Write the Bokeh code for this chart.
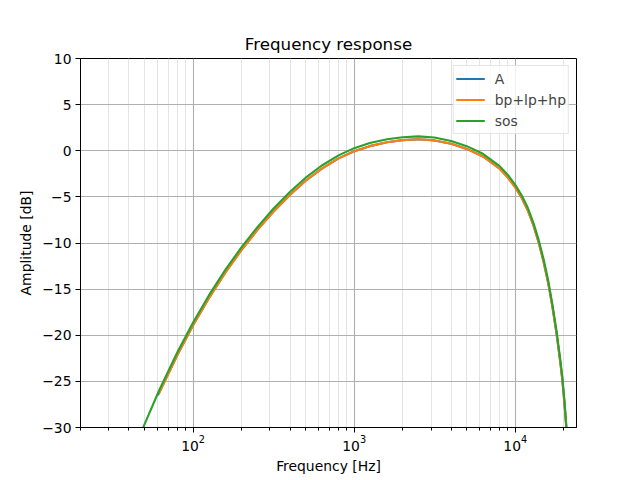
from bokeh.plotting import figure
from bokeh.models import FixedTicker, Legend, LegendItem
from bokeh.embed import file_html
from bokeh.resources import INLINE

# ---- data (frequency in Hz, amplitude in dB) ----
freq_A = [60.5, 80, 100, 125, 160, 200, 250, 315, 400, 500, 630, 800, 1000, 1250, 1600,
          2000, 2500, 3150, 4000, 5000, 6300, 8000, 9000, 10000, 11000, 12000, 13000,
          14000, 15000, 16000, 17000, 18000, 19000, 19600, 20200, 20700, 21200, 21700]
amp_A = [-26.5, -22.12, -18.92, -16.01, -13.11, -10.75, -8.61, -6.61, -4.76, -3.25,
         -1.93, -0.83, -0.05, 0.5, 0.93, 1.15, 1.24, 1.12, 0.75, 0.2, -0.62, -1.95,
         -2.9, -3.97, -5.15, -6.52, -8.15, -10.0, -12.05, -14.3, -16.9, -19.7, -22.8,
         -24.85, -27.35, -29.8, -32.6, -35.8]

freq_bp = [61.5, 80, 100, 125, 160, 200, 250, 315, 400, 500, 630, 800, 1000, 1250, 1600,
           2000, 2500, 3150, 4000, 5000, 6300, 8000, 9000, 10000, 11000, 12000, 13000,
           14000, 15000, 16000, 17000, 18000, 19000, 19600, 20200, 20700, 21200, 21700]
amp_bp = [-26.29, -22.12, -18.92, -16.01, -13.11, -10.75, -8.61, -6.61, -4.76, -3.25,
          -1.93, -0.83, -0.05, 0.5, 0.93, 1.15, 1.24, 1.12, 0.75, 0.2, -0.62, -1.95,
          -2.9, -3.97, -5.15, -6.52, -8.15, -10.0, -12.05, -14.3, -16.9, -19.7, -22.8,
          -24.85, -27.35, -29.8, -32.6, -35.8]

freq_sos = [40, 50, 61.5, 80, 100, 125, 160, 200, 250, 315, 400, 500, 630, 800, 1000,
            1250, 1600, 2000, 2500, 3150, 4000, 5000, 6300, 8000, 9000, 10000, 11000,
            12000, 13000, 14000, 15000, 16000, 17000, 18000, 19000, 19600, 20200, 20700,
            21200, 21700]
amp_sos = [-33.82, -29.63, -25.99, -21.82, -18.62, -15.71, -12.81, -10.45, -8.3, -6.29,
           -4.44, -2.92, -1.6, -0.5, 0.28, 0.83, 1.25, 1.47, 1.56, 1.44, 1.06, 0.5,
           -0.33, -1.67, -2.62, -3.69, -4.87, -6.24, -7.87, -9.72, -11.77, -14.02,
           -16.62, -19.42, -22.52, -24.57, -27.07, -29.52, -32.32, -35.5]

x_major = [100, 1000, 10000]
x_minor = [m * d for d in (10, 100, 1000, 10000) for m in range(2, 10) if 20 <= m * d <= 24000]
y_ticks = [-30, -25, -20, -15, -10, -5, 0, 5, 10]
y_labels = {float(t): (("\u2212" + str(-t)) if t < 0 else str(t)) for t in y_ticks}

FONT = "DejaVu Sans"

p = figure(width=640, height=480, x_axis_type="log", x_range=(20, 24000),
           y_range=(-30, 10), output_backend="svg", toolbar_location=None,
           title="Frequency response",
           min_border_left=80, min_border_right=64, min_border_top=58,
           min_border_bottom=53)

p.background_fill_color = "white"
p.border_fill_color = "white"
p.outline_line_color = "black"
p.outline_line_width = 1

p.title.align = "center"
p.title.text_font = FONT
p.title.text_font_size = "16.7px"
p.title.text_font_style = "normal"
p.title.text_color = "black"

p.xaxis.ticker = FixedTicker(ticks=x_major, minor_ticks=x_minor)
p.yaxis.ticker = FixedTicker(ticks=y_ticks)
p.yaxis.major_label_overrides = y_labels

for ax in (p.xaxis[0], p.yaxis[0]):
    ax.major_label_text_font = FONT
    ax.major_label_text_font_size = "13.9px"
    ax.major_label_text_color = "black"
    ax.axis_label_text_font = FONT
    ax.axis_label_text_font_size = "13.9px"
    ax.axis_label_text_font_style = "normal"
    ax.axis_label_text_color = "black"
    ax.axis_line_color = "black"
    ax.major_tick_line_color = "black"
    ax.minor_tick_line_color = "black"
    ax.major_tick_out = 5
    ax.major_tick_in = 0
    ax.minor_tick_out = 3
    ax.minor_tick_in = 0

p.xaxis.major_label_standoff = 2
p.yaxis.major_label_standoff = 4
p.xaxis.axis_label = "Frequency [Hz]"
p.yaxis.axis_label = "Amplitude [dB]"
p.xaxis.axis_label_standoff = 4
p.yaxis.axis_label_standoff = 5

p.xgrid.grid_line_color = "#b0b0b0"
p.xgrid.grid_line_width = 1.1
p.xgrid.minor_grid_line_color = "#e4e4e4"
p.xgrid.minor_grid_line_width = 1
p.ygrid.grid_line_color = "#b0b0b0"
p.ygrid.grid_line_width = 1.1

rA = p.line(freq_A, amp_A, line_color="#1f77b4", line_width=2.1)
rB = p.line(freq_bp, amp_bp, line_color="#ff7f0e", line_width=2.1)
rS = p.line(freq_sos, amp_sos, line_color="#2ca02c", line_width=2.1)

legend = Legend(items=[LegendItem(label="A", renderers=[rA]),
                       LegendItem(label="bp+lp+hp", renderers=[rB]),
                       LegendItem(label="sos", renderers=[rS])],
                location="top_right", margin=7, padding=2, spacing=0,
                label_height=21, glyph_height=21, glyph_width=29,
                label_standoff=10, label_width=70,
                label_text_font=FONT, label_text_font_size="13.9px",
                border_line_color="#cccccc", border_line_width=1,
                background_fill_color="white", background_fill_alpha=0.8)
p.add_layout(legend, "center")

open("out.html", "w").write(file_html(p, INLINE))
